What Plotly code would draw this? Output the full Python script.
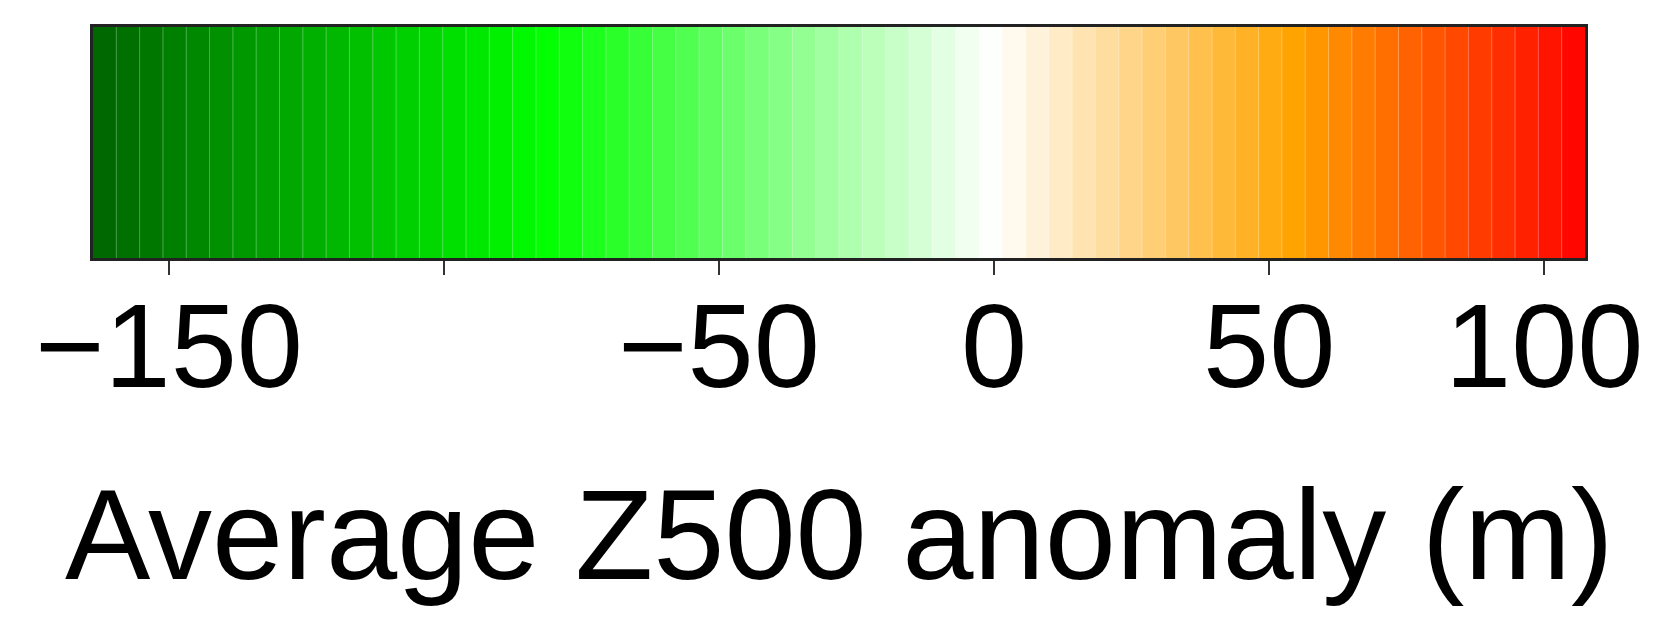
import numpy as np
import plotly.graph_objects as go

# Colour bar extent (m) and number of discrete bands
z_min = -163.8
z_max = 107.4
n_bands = 64

# Ramp anchor values and colours
ramp_values = [-163.8, -81.9, 0.0, 53.7, 107.4]
ramp_colors = ["#006400", "#00ff00", "#ffffff", "#ffa500", "#ff0000"]

tick_vals = [-150, -100, -50, 0, 50, 100]
tick_text = ["\u2212150", "", "\u221250", "0", "50", "100"]

title_text = "Average Z500 anomaly (m)"

# band edges (evenly spaced) and band centre values
edges = np.linspace(z_min, z_max, n_bands + 1)
centers = (edges[:-1] + edges[1:]) / 2

colorscale = [[(v - z_min) / (z_max - z_min), c] for v, c in zip(ramp_values, ramp_colors)]

FONT = "Liberation Sans, Arial, sans-serif"

fig = go.Figure()
fig.add_trace(go.Heatmap(
    x=edges, y=[0, 1], z=[centers],
    colorscale=colorscale, zmin=z_min, zmax=z_max,
    showscale=False, hoverinfo="skip",
))

# faint light separators between bands
for e in edges[1:-1]:
    fig.add_shape(type="line", x0=e, x1=e, y0=0, y1=1, xref="x", yref="y",
                  line=dict(color="rgba(255,255,255,0.3)", width=1), layer="above")

fig.update_xaxes(
    range=[z_min, z_max], tickvals=tick_vals, ticktext=[""] * len(tick_vals),
    ticks="outside", ticklen=14, tickwidth=2, tickcolor="#333333",
    showline=True, linecolor="#222222", linewidth=2.5, mirror=True,
    showgrid=False, zeroline=False,
)
fig.update_yaxes(
    range=[0, 1], showticklabels=False, ticks="",
    showline=True, linecolor="#222222", linewidth=2.5, mirror=True,
    showgrid=False, zeroline=False,
)

# tick labels as annotations at the tick values
for v, t in zip(tick_vals, tick_text):
    if t:
        fig.add_annotation(
            text=t, x=v, xref="x", yref="paper", y=-0.379,
            xanchor="center", yanchor="middle", showarrow=False,
            font=dict(family=FONT, size=119, color="black"),
        )

fig.add_annotation(
    text=title_text, xref="paper", yref="paper", x=0.5, y=-1.196,
    xanchor="center", yanchor="middle", showarrow=False,
    font=dict(family=FONT, size=128, color="black"),
)

# page body has an 8px margin; figure size and margins compensate for it
fig.update_layout(
    width=1651, height=609,
    margin=dict(l=85, r=74, t=19, b=359),
    paper_bgcolor="white", plot_bgcolor="white",
    showlegend=False,
)

fig.write_html("out.html")
